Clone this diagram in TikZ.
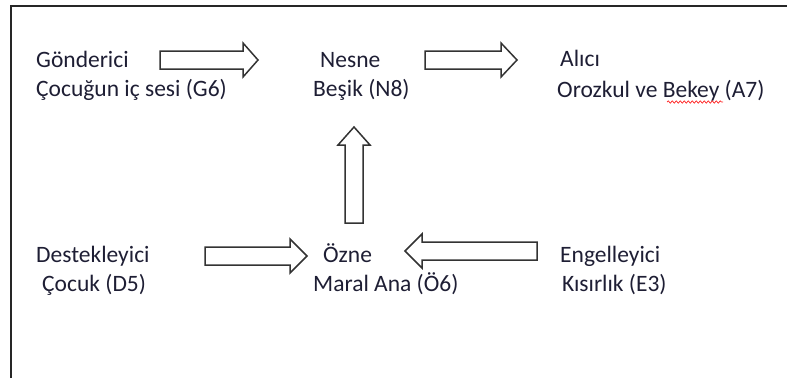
\documentclass[tikz,border=0pt]{standalone}
\usepackage{fontspec}
\setmainfont{Carlito}
\usetikzlibrary{decorations.pathmorphing}
\begin{document}
\begin{tikzpicture}[x=1pt,y=-1pt,
  lbl/.style={anchor=base west,inner sep=0pt,text=txtc,font=\fontsize{23.5}{28}\selectfont},
  barrow/.style={draw=black!80,line width=1.5pt,fill=white,line join=miter}]
\definecolor{txtc}{HTML}{1E1E34}
\useasboundingbox (0,0) rectangle (787,378);
% frame (top and left edges)
\coordinate (fa) at (11,378);
\coordinate (fb) at (11,6);
\coordinate (fc) at (787,6);
\draw[line width=2.4pt,black!85] (fa) -- (fb) -- (fc);
% texts
\node[lbl] (g1) at (36,67) {Gönderici};
\node[lbl] (g2) at (36,96) {Çocuğun iç sesi (G6)};
\node[lbl] (n1) at (320,67) {Nesne};
\node[lbl] (n2) at (313,96) {Beşik (N8)};
\node[lbl] (a1) at (560,66) {Alıcı};
\node[lbl] (a2) at (557,97) {Orozkul ve Bekey (A7)};
\node[lbl] (d1) at (36,262) {Destekleyici};
\node[lbl] (d2) at (42,291) {Çocuk (D5)};
\node[lbl] (o1) at (323,262) {Özne};
\node[lbl] (o2) at (313,291) {Maral Ana (Ö6)};
\node[lbl] (e1) at (560,262) {Engelleyici};
\node[lbl] (e2) at (562,291) {Kısırlık (E3)};
% block arrows
% G -> N
\draw[barrow] (160,51) -- (243,51) -- (243,43) -- (258,60) -- (243,77) -- (243,69) -- (160,69) -- cycle;
% N -> A
\draw[barrow] (425,51) -- (501,51) -- (501,43) -- (517,60) -- (501,77) -- (501,69) -- (425,69) -- cycle;
% Ö -> N (vertical)
\draw[barrow] (345,223) -- (345,145) -- (338,145) -- (354,127) -- (370,145) -- (363,145) -- (363,223) -- cycle;
% D -> Ö
\draw[barrow] (205,247) -- (290,247) -- (290,239) -- (307,256) -- (290,273) -- (290,265) -- (205,265) -- cycle;
% E -> Ö
\draw[barrow] (537,242) -- (422,242) -- (422,234) -- (405,251) -- (422,268) -- (422,260) -- (537,260) -- cycle;
% spelling underline under Bekey
\coordinate (sq1) at (667,102);
\coordinate (sq2) at (723,102);
\draw[red!85,line width=0.7pt,decorate,decoration={snake,amplitude=1.2pt,segment length=4pt}] (sq1) -- (sq2);
\end{tikzpicture}
\end{document}
